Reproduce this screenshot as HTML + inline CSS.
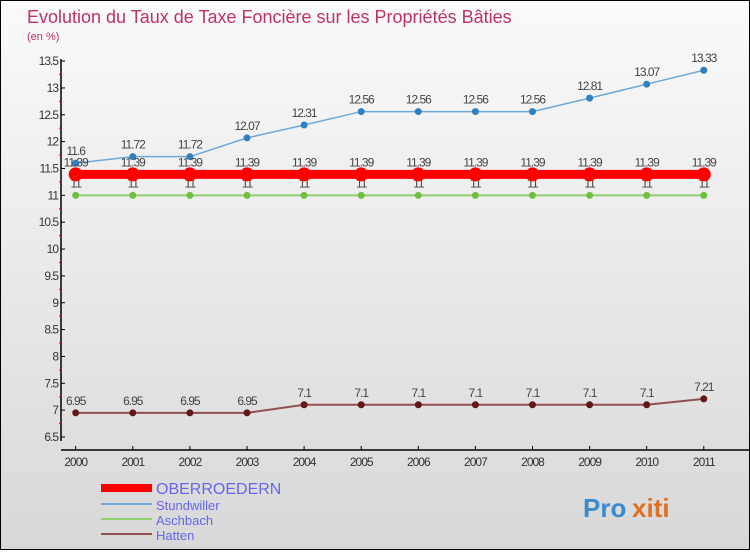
<!DOCTYPE html>
<html><head><meta charset="utf-8"><style>
body{margin:0}
#c{width:748px;height:548px;border:1px solid #000;background:linear-gradient(#fafafa,#d8d8d8);position:relative;font-family:"Liberation Sans",sans-serif}
</style></head><body>
<div id="c">
<svg id="s" width="748" height="548"></svg>
</div>
<script>
const years=["2000","2001","2002","2003","2004","2005","2006","2007","2008","2009","2010","2011"];
const oberroedern=[11.39,11.39,11.39,11.39,11.39,11.39,11.39,11.39,11.39,11.39,11.39,11.39];
const stundwiller=[11.6,11.72,11.72,12.07,12.31,12.56,12.56,12.56,12.56,12.81,13.07,13.33];
const aschbach=[11,11,11,11,11,11,11,11,11,11,11,11];
const hatten=[6.95,6.95,6.95,6.95,7.1,7.1,7.1,7.1,7.1,7.1,7.1,7.21];
const yTicks=[6.5,7,7.5,8,8.5,9,9.5,10,10.5,11,11.5,12,12.5,13,13.5];
const s=document.getElementById('s');const NS='http://www.w3.org/2000/svg';
function el(t,a,txt){const e=document.createElementNS(NS,t);for(const k in a)e.setAttribute(k,a[k]);if(txt!==undefined)e.textContent=txt;s.appendChild(e);return e;}
const X=i=>74.7+i*57.1, Y=v=>436-(v-6.5)*53.7;
let e;
e=el('text',{x:26,y:22,'font-size':18,fill:'#c0306a'},'Evolution du Taux de Taxe Foncière sur les Propriétés Bâties');
e=el('text',{x:26,y:39,'font-size':11,fill:'#c0306a'},'(en %)');
e=el('line',{x1:60,y1:58,x2:60,y2:440,stroke:'#000','stroke-width':1.5});
e=el('line',{x1:60,y1:449,x2:748,y2:449,stroke:'#000','stroke-width':1.5});
yTicks.forEach((v,i)=>{
 e=el('line',{x1:60,y1:Y(v),x2:64,y2:Y(v),stroke:'#000'});
 if(i<yTicks.length-1){e=el('line',{x1:58,y1:Y(v+0.25),x2:61,y2:Y(v+0.25),stroke:'#e00'});}
 e=el('text',{x:57,y:Y(v)+4,'font-size':12,'text-anchor':'end',fill:'#333','letter-spacing':'-1'},String(v));
});
years.forEach((y,i)=>{
 e=el('line',{x1:X(i),y1:445,x2:X(i),y2:449,stroke:'#000'});
 e=el('text',{x:X(i),y:465,'font-size':12,'text-anchor':'middle',fill:'#333','letter-spacing':'-1'},y);
});
function series(name,data,color,w,r,ptColor,labColor){
 e=el('polyline',{points:data.map((v,i)=>X(i)+','+Y(v)).join(' '),fill:'none',stroke:color,'stroke-width':w});
 data.forEach((v,i)=>{
  e=el('circle',{cx:X(i),cy:Y(v),r:r,fill:ptColor});
  e=el('text',{x:X(i),y:Y(v)-8,'font-size':12,'text-anchor':'middle',fill:labColor,'letter-spacing':'-1'},String(v));
 });
}
series('aschbach',aschbach,'#90d070',2,3.5,'#70c040','#444');
series('hatten',hatten,'#905050',2,3.5,'#601818','#444');
series('stundwiller',stundwiller,'#70a8d8',1.5,3.5,'#3080c0','#444');
series('oberroedern',oberroedern,'#ff0000',9,7,'#ff0000','#444');
const legend=[['OBERROEDERN','#ff0000',8,16],['Stundwiller','#70a8d8',2,13],['Aschbach','#90d070',2,13],['Hatten','#905050',2,13]];
const ly=[493,509,524,539];
legend.forEach((l,i)=>{
 e=el('line',{x1:100,y1:ly[i]-6,x2:151,y2:ly[i]-6,stroke:l[1],'stroke-width':l[2]});
 e=el('text',{x:155,y:ly[i],'font-size':l[3],fill:'#6666ee'},l[0]);
});
e=el('text',{x:582,y:516,'font-size':26,'font-weight':'bold',fill:'#3a8ad0'},'Pro');
e=el('text',{x:631,y:516,'font-size':26,'font-weight':'bold',fill:'#e07020'},'xiti');
</script>
</body></html>
